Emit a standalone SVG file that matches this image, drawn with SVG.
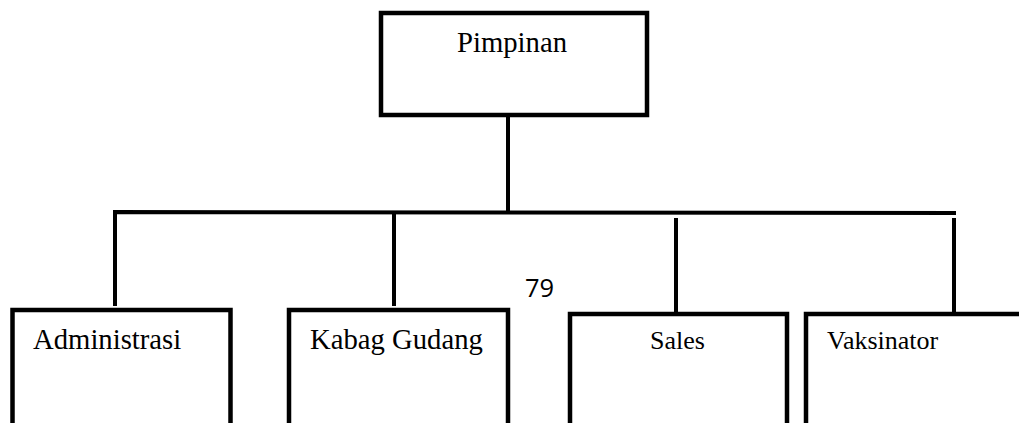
<svg xmlns="http://www.w3.org/2000/svg" width="1019" height="423" viewBox="0 0 1019 423">
  <style>
    .box { fill: #ffffff; stroke: #000000; stroke-width: 4.5; }
    .link { fill: none; stroke: #000000; stroke-width: 4; }
    .label { font-family: "Liberation Serif", "Times New Roman", serif; font-size: 28.7px; fill: #000000; }
    .label.small { font-size: 26px; }
    .page { font-family: "Open Sans", "Liberation Sans", sans-serif; font-size: 25.5px; fill: #000000; }
  </style>
  <rect width="1019" height="423" fill="#ffffff"/>

  <!-- connectors -->
  <g id="connectors">
    <line class="link" x1="508" y1="115" x2="508" y2="213"/>
    <polyline class="link" points="115,306 115,212 956,213"/>
    <line class="link" x1="394" y1="212" x2="394" y2="306"/>
    <line class="link" x1="676" y1="218" x2="676" y2="313"/>
    <line class="link" x1="954" y1="218" x2="954" y2="313"/>
  </g>

  <g id="pimpinan">
    <rect class="box" x="381" y="13" width="266" height="102"/>
    <text class="label" x="457" y="52">Pimpinan</text>
  </g>

  <g id="administrasi">
    <rect class="box" x="12.5" y="310" width="218" height="130"/>
    <text class="label" x="33" y="349">Administrasi</text>
  </g>

  <g id="kabag-gudang">
    <rect class="box" x="289" y="310" width="219" height="130"/>
    <text class="label" x="310" y="349">Kabag Gudang</text>
  </g>

  <g id="sales">
    <rect class="box" x="570" y="314" width="217" height="130"/>
    <text class="label small" x="650" y="349">Sales</text>
  </g>

  <g id="vaksinator">
    <rect class="box" x="806" y="314" width="240" height="130"/>
    <text class="label small" x="827" y="349">Vaksinator</text>
  </g>

  <text class="page" x="525" y="297">79</text>
</svg>
